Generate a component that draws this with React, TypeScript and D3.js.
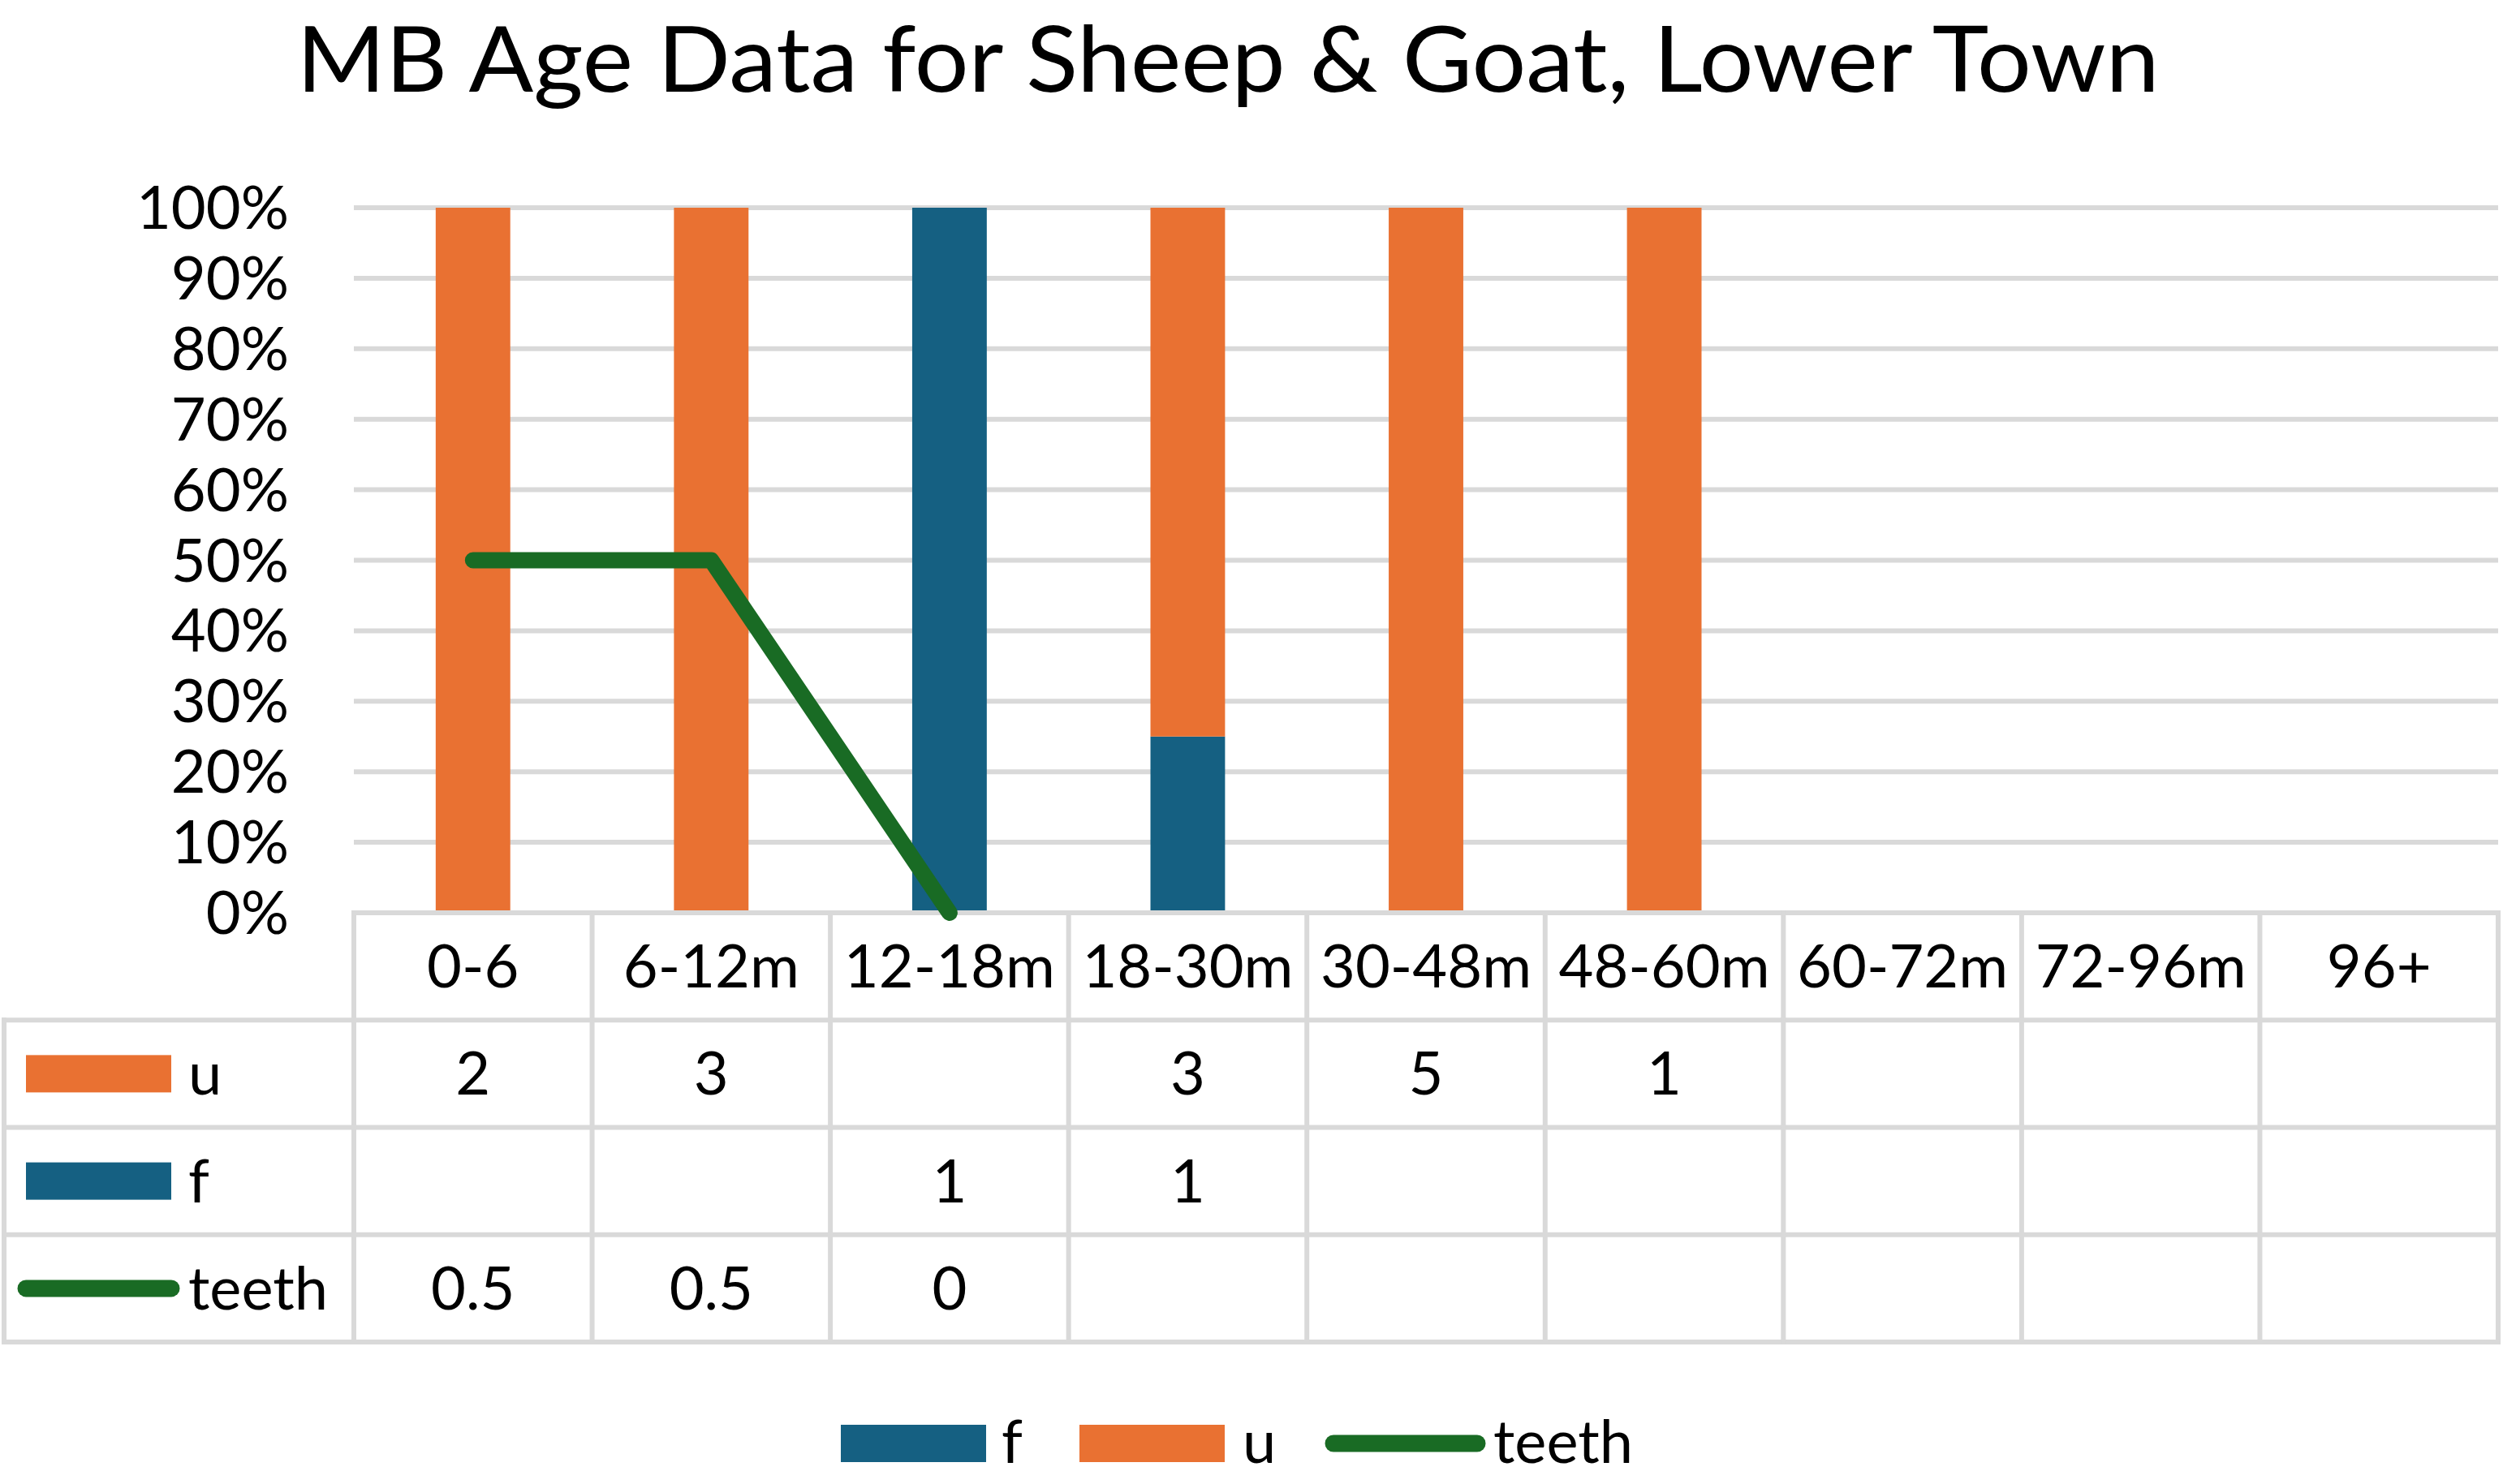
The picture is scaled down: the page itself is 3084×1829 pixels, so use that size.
import { useEffect } from "react"
import * as d3 from "d3"

const categories = ["0-6", "6-12m", "12-18m", "18-30m", "30-48m", "48-60m", "60-72m", "72-96m", "96+"]
const uValues: (number | null)[] = [2, 3, null, 3, 5, 1, null, null, null]
const fValues: (number | null)[] = [null, null, 1, 1, null, null, null, null, null]
const teethValues: (number | null)[] = [0.5, 0.5, 0, null, null, null, null, null, null]

const COLORS = { f: "#156082", u: "#E97132", teeth: "#196B24", grid: "#D9D9D9" }
const FONT = "Lato, 'Open Sans', sans-serif"
const W = 3084
const H = 1829

export default function App() {
    useEffect(() => {
        document.body.style.margin = "0"
    }, [])

    const margin = { left: 436, right: 6, top: 256 }
    const axisY = 1125
    const tableBottom = 1654
    const tableLeft = 5

    const x = d3.scaleBand<string>()
        .domain(categories)
        .range([margin.left, W - margin.right])
        .padding(0)

    const y = d3.scaleLinear()
        .domain([0, 1])
        .range([axisY, margin.top])

    // rows of the data table: header, u, f, teeth
    const row = d3.scaleLinear().domain([0, 4]).range([axisY, tableBottom])
    const rowMid = (i: number) => (row(i) + row(i + 1)) / 2

    const rows = categories.map((c, i) => ({ cat: c, f: fValues[i] ?? 0, u: uValues[i] ?? 0 }))
    const series = d3.stack<any>()
        .keys(["f", "u"])
        .offset(d3.stackOffsetExpand)(rows)

    const bw = x.bandwidth() * 0.313
    const cx = (c: string) => (x(c) as number) + x.bandwidth() / 2

    const line = d3.line<number | null>()
        .defined(d => d != null)
        .x((_, i) => cx(categories[i]))
        .y(d => y(d as number))

    const ticks = y.ticks(10)
    const pct = d3.format(".0%")

    const tableRows = [
        { key: "u", label: "u", values: uValues, kind: "rect" },
        { key: "f", label: "f", values: fValues, kind: "rect" },
        { key: "teeth", label: "teeth", values: teethValues, kind: "line" },
    ]

    const legend = [
        { key: "f", kind: "rect", x: 1036, tx: 1234 },
        { key: "u", kind: "rect", x: 1330, tx: 1531 },
        { key: "teeth", kind: "line", x: 1633, tx: 1840 },
    ]
    const legendY = 1779

    const textBase = 26 // baseline offset from a row's middle

    return (
        <svg width={W} height={H} viewBox={`0 0 ${W} ${H}`} style={{ display: "block", background: "#fff" }}
            fontFamily={FONT}>
            <text x={1513} y={113} fontSize={112} textAnchor="middle" fill="#000"
                textLength={2295} lengthAdjust="spacingAndGlyphs">
                MB Age Data for Sheep &amp; Goat, Lower Town
            </text>

            {/* gridlines + y labels */}
            {ticks.map(t => (
                <g key={t}>
                    {t > 0 && <line x1={margin.left} x2={W - margin.right} y1={y(t)} y2={y(t)}
                        stroke={COLORS.grid} strokeWidth={6} />}
                    <text x={356} y={y(t) + textBase} fontSize={74} textAnchor="end" fill="#000">{pct(t)}</text>
                </g>
            ))}

            {/* stacked bars */}
            {series.map(s => (
                <g key={s.key} fill={(COLORS as any)[s.key]}>
                    {s.map((d, i) => d[1] - d[0] > 0 ? (
                        <rect key={i} x={cx(categories[i]) - bw / 2} width={bw}
                            y={y(d[1])} height={y(d[0]) - y(d[1])} />
                    ) : null)}
                </g>
            ))}

            {/* data table */}
            <g stroke={COLORS.grid} strokeWidth={6} strokeLinecap="square">
                <line x1={margin.left} x2={W - margin.right} y1={row(0)} y2={row(0)} />
                {[1, 2, 3, 4].map(i => (
                    <line key={i} x1={tableLeft} x2={W - margin.right} y1={row(i)} y2={row(i)} />
                ))}
                <line x1={tableLeft} x2={tableLeft} y1={row(1)} y2={row(4)} />
                {d3.range(categories.length + 1).map(i => {
                    const xx = margin.left + i * x.step()
                    return <line key={i} x1={xx} x2={xx} y1={row(0)} y2={row(4)} />
                })}
            </g>

            {categories.map(c => (
                <text key={c} x={cx(c)} y={rowMid(0) + textBase} fontSize={74} textAnchor="middle" fill="#000">{c}</text>
            ))}

            {tableRows.map((r, ri) => {
                const my = rowMid(ri + 1)
                return (
                    <g key={r.key}>
                        {r.kind === "rect"
                            ? <rect x={32} y={my - 23} width={179} height={46} fill={(COLORS as any)[r.key]} />
                            : <line x1={32} x2={211} y1={my} y2={my} stroke={COLORS.teeth} strokeWidth={21} strokeLinecap="round" />}
                        <text x={232} y={my + textBase} fontSize={74} fill="#000">{r.label}</text>
                        {r.values.map((v, i) => v == null ? null : (
                            <text key={i} x={cx(categories[i])} y={my + textBase} fontSize={74} textAnchor="middle" fill="#000">{v}</text>
                        ))}
                    </g>
                )
            })}

            {/* teeth line */}
            <path d={line(teethValues) ?? ""} fill="none" stroke={COLORS.teeth} strokeWidth={20}
                strokeLinecap="round" strokeLinejoin="round" />

            {/* legend */}
            {legend.map(l => (
                <g key={l.key}>
                    {l.kind === "rect"
                        ? <rect x={l.x} y={legendY - 23} width={179} height={46} fill={(COLORS as any)[l.key]} />
                        : <line x1={l.x + 10} x2={l.x + 187} y1={legendY} y2={legendY} stroke={COLORS.teeth} strokeWidth={21} strokeLinecap="round" />}
                    <text x={l.tx} y={legendY + textBase - 2} fontSize={74} fill="#000">{l.key}</text>
                </g>
            ))}
        </svg>
    )
}
